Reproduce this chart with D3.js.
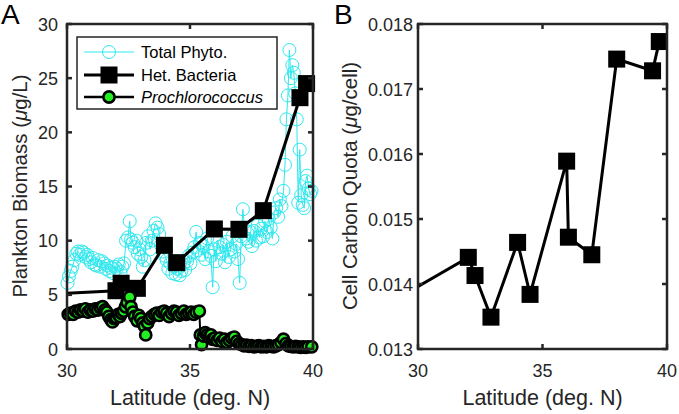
<!DOCTYPE html>
<html><head><meta charset="utf-8">
<script src="https://cdn.jsdelivr.net/npm/d3@7"></script>
<style>body{margin:0;background:#fff}svg{display:block;font-family:"Liberation Sans",Arial,sans-serif}</style>
</head><body><svg id="c" width="679" height="414"></svg>
<script>
// ---- data ----
const phytoLat = [29.95,30.02,30.08,30.15,30.22,30.3,30.38,30.45,30.52,30.6,30.68,30.75,30.82,30.9,30.97,31.05,31.12,31.2,31.28,31.35,31.42,31.5,31.58,31.65,31.72,31.8,31.88,31.95,32.02,32.1,32.18,32.25,32.32,32.4,32.48,32.55,32.6,32.68,32.75,32.82,32.88,32.95,33.02,33.08,33.15,33.22,33.3,33.38,33.45,33.52,33.6,33.68,33.75,33.82,33.9,33.98,34.05,34.12,34.2,34.28,34.35,34.42,34.5,34.58,34.65,34.72,34.8,34.88,34.95,35.02,35.1,35.18,35.25,35.32,35.4,35.48,35.55,35.62,35.7,35.78,35.85,35.92,35.98,36.05,36.12,36.2,36.28,36.35,36.42,36.5,36.58,36.65,36.72,36.8,36.88,36.95,37.02,37.08,37.15,37.22,37.3,37.38,37.45,37.52,37.6,37.68,37.75,37.82,37.9,37.98,38.05,38.12,38.2,38.28,38.35,38.42,38.5,38.58,38.65,38.72,38.8,38.86,38.92,38.98,39.04,39.1,39.16,39.22,39.28,39.34,39.4,39.46,39.52,39.58,39.64,39.7,39.76,39.82,39.88,39.94];
const phytoVal = [6.5,6.1,6.7,7.2,7.6,8.2,8.8,9.0,8.7,9.0,8.9,8.5,8.7,8.3,8.0,8.4,7.8,7.7,8.2,7.6,8.1,7.9,7.4,7.7,7.2,7.5,7.0,7.6,7.4,7.8,7.1,7.6,7.9,10.0,10.3,11.8,10.1,9.8,9.4,10.0,8.8,9.2,8.5,7.6,8.2,9.8,10.4,9.2,10.0,10.9,11.6,11.2,10.6,9.6,9.0,8.6,8.2,7.4,7.9,7.0,7.6,6.9,7.4,6.8,7.2,7.8,7.3,8.1,8.6,7.9,8.9,9.4,10.8,9.1,9.8,8.7,9.5,8.3,10.2,9.0,8.6,5.7,9.2,8.1,10.0,9.4,8.8,9.6,8.0,9.9,8.5,9.2,10.4,9.0,9.7,8.3,6.1,10.4,12.9,11.0,10.2,9.9,10.8,9.5,10.9,10.0,11.4,10.3,11.1,10.4,11.8,10.8,12.0,11.2,10.2,12.6,13.0,12.2,13.8,13.2,14.6,17.0,21.2,23.4,27.6,25.0,26.2,25.5,23.6,21.2,13.5,18.4,14.2,13.3,13.0,15.5,16.0,14.8,14.3,14.6];

const bactLat = [28.5,31.99,32.2,32.86,33.96,34.46,35.99,36.99,37.98,39.47,39.74];
const bactVal = [4.96,5.38,6.07,5.6,9.57,7.97,11.08,11.05,12.77,23.2,24.5];

const proLat = [29.95,30.05,30.15,30.25,30.35,30.45,30.55,30.65,30.75,30.85,30.95,31.05,31.15,31.25,31.35,31.45,31.55,31.62,31.7,31.78,31.85,31.92,32.0,32.08,32.15,32.22,32.3,32.38,32.45,32.55,32.6,32.68,32.75,32.85,32.92,33.0,33.08,33.15,33.2,33.28,33.36,33.45,33.55,33.65,33.75,33.85,33.95,34.05,34.15,34.25,34.35,34.45,34.55,34.65,34.75,34.85,34.95,35.05,35.15,35.25,35.38,35.42,35.47,35.55,35.62,35.7,35.78,35.85,35.92,36.0,36.1,36.2,36.3,36.4,36.5,36.6,36.7,36.8,36.9,37.0,37.1,37.2,37.3,37.4,37.5,37.6,37.7,37.8,37.9,38.0,38.1,38.2,38.3,38.4,38.5,38.6,38.7,38.8,38.9,39.0,39.1,39.2,39.3,39.4,39.5,39.6,39.7,39.8,39.95];
const proVal = [3.0,3.2,3.3,3.2,3.5,3.4,3.6,3.5,3.7,3.4,3.6,3.5,3.7,3.6,3.8,3.9,3.6,3.4,3.0,2.7,2.5,2.8,2.9,3.2,3.0,3.3,3.5,3.9,4.3,4.8,3.9,3.4,3.0,2.6,3.1,2.8,2.4,2.1,1.3,2.4,2.8,3.0,3.2,3.3,3.1,3.4,3.5,3.3,3.0,3.3,3.5,3.4,3.1,3.3,3.5,3.2,3.3,3.4,3.2,3.4,3.5,1.3,0.4,1.2,1.5,1.3,1.1,1.3,0.9,1.0,0.8,1.0,0.7,0.9,0.6,0.8,1.0,1.1,0.7,0.5,0.4,0.3,0.35,0.25,0.3,0.2,0.25,0.3,0.2,0.25,0.2,0.3,0.25,0.2,0.3,0.4,0.6,0.9,0.5,0.3,0.25,0.2,0.25,0.2,0.15,0.2,0.15,0.2,0.2];

const quotaLat = [28.5,32.02,32.29,32.93,34.0,34.5,35.97,36.04,36.98,37.98,39.42,39.69];
const quotaVal = [0.01363,0.01441,0.01413,0.01349,0.01464,0.01384,0.01589,0.01472,0.01445,0.01746,0.01728,0.01773];

const xTicks = [30,35,40];
const yTicksA = [0,5,10,15,20,25,30];
const yTicksB = [0.013,0.014,0.015,0.016,0.017,0.018];
const legendLabels = ["Total Phyto.","Het. Bacteria","Prochlorococcus"];

// ---- drawing ----
const svg = d3.select("#c");
const axisCol = "#262626";
const cyan = "#2ee8ee", green = "#22ee22";
const tickFont = 18, labelFont = 21.5;

function panel(id, x0, x1, y0, y1, yDomain, yTicks, yFmt, yGap) {
  const x = d3.scaleLinear().domain([30,40]).range([x0,x1]);
  const y = d3.scaleLinear().domain(yDomain).range([y1,y0]);
  svg.append("clipPath").attr("id",id).append("rect").attr("x",x0).attr("y",y0).attr("width",x1-x0).attr("height",y1-y0);
  const g = svg.append("g");
  const ax = svg.append("g");
  ax.append("rect").attr("x",x0).attr("y",y0).attr("width",x1-x0).attr("height",y1-y0)
    .attr("fill","none").attr("stroke",axisCol).attr("stroke-width",2.5);
  const tl = 5;
  xTicks.forEach(t=>{
    ax.append("line").attr("x1",x(t)).attr("x2",x(t)).attr("y1",y1).attr("y2",y1-tl).attr("stroke",axisCol).attr("stroke-width",2.5);
    ax.append("line").attr("x1",x(t)).attr("x2",x(t)).attr("y1",y0).attr("y2",y0+tl).attr("stroke",axisCol).attr("stroke-width",2.5);
    ax.append("text").attr("x",x(t)).attr("y",y1+28).attr("text-anchor","middle").attr("font-size",tickFont).attr("fill",axisCol).text(t);
  });
  yTicks.forEach(t=>{
    ax.append("line").attr("x1",x0).attr("x2",x0+tl).attr("y1",y(t)).attr("y2",y(t)).attr("stroke",axisCol).attr("stroke-width",2.5);
    ax.append("line").attr("x1",x1).attr("x2",x1-tl).attr("y1",y(t)).attr("y2",y(t)).attr("stroke",axisCol).attr("stroke-width",2.5);
    ax.append("text").attr("x",x0-yGap).attr("y",y(t)+6.5).attr("text-anchor","end").attr("font-size",tickFont).attr("fill",axisCol).text(yFmt(t));
  });
  ax.append("text").attr("x",(x0+x1)/2).attr("y",y1+56).attr("text-anchor","middle").attr("font-size",labelFont).attr("fill",axisCol).text("Latitude (deg. N)");
  return {x,y,g,ax};
}

// Panel A
const A = panel("clipA", 67, 313, 24, 349, [0,30], yTicksA, d=>d, 9);
const line = (x,y)=>d3.line().x(d=>x(d[0])).y(d=>y(d[1]));
const phyto = phytoLat.map((l,i)=>[l,phytoVal[i]]);
const bact = bactLat.map((l,i)=>[l,bactVal[i]]);
const pro = proLat.map((l,i)=>[l,proVal[i]]);
const inDom = d=>d[0]>=30 && d[0]<=40;

A.g.append("path").datum(phyto).attr("d",line(A.x,A.y)).attr("fill","none").attr("stroke",cyan).attr("stroke-width",1).attr("clip-path","url(#clipA)");
A.g.selectAll(".ph").data(phyto.filter(inDom)).join("circle").attr("cx",d=>A.x(d[0])).attr("cy",d=>A.y(d[1])).attr("r",6.5)
  .attr("fill","none").attr("stroke",cyan).attr("stroke-width",1);
A.g.append("path").datum(bact).attr("d",line(A.x,A.y)).attr("fill","none").attr("stroke","#000").attr("stroke-width",3).attr("clip-path","url(#clipA)");
A.g.selectAll(".bq").data(bact.filter(inDom)).join("rect").attr("x",d=>A.x(d[0])-8.5).attr("y",d=>A.y(d[1])-8.5).attr("width",17).attr("height",17).attr("fill","#000");
A.g.append("path").datum(pro).attr("d",line(A.x,A.y)).attr("fill","none").attr("stroke","#000").attr("stroke-width",2).attr("clip-path","url(#clipA)");
A.g.selectAll(".pr").data(pro.filter(inDom)).join("circle").attr("cx",d=>A.x(d[0])).attr("cy",d=>A.y(d[1])).attr("r",5.6)
  .attr("fill",green).attr("stroke","#000").attr("stroke-width",2.6);

// Y label A
const labA = svg.append("text").attr("transform","translate(27,186) rotate(-90)").attr("text-anchor","middle").attr("font-size",20.5).attr("fill",axisCol);
labA.append("tspan").text("Plankton Biomass (");
labA.append("tspan").attr("font-style","italic").text("μ");
labA.append("tspan").text("g/L)");

// Legend
const lg = svg.append("g");
lg.append("rect").attr("x",77).attr("y",37).attr("width",200).attr("height",72).attr("fill","#fff").attr("stroke",axisCol).attr("stroke-width",1.5);
const ly = [52,75,97];
lg.append("line").attr("x1",84).attr("x2",134).attr("y1",ly[0]).attr("y2",ly[0]).attr("stroke",cyan).attr("stroke-width",1);
lg.append("circle").attr("cx",109).attr("cy",ly[0]).attr("r",6.5).attr("fill","none").attr("stroke",cyan);
lg.append("line").attr("x1",84).attr("x2",134).attr("y1",ly[1]).attr("y2",ly[1]).attr("stroke","#000").attr("stroke-width",3);
lg.append("rect").attr("x",100.5).attr("y",ly[1]-8.5).attr("width",17).attr("height",17).attr("fill","#000");
lg.append("line").attr("x1",84).attr("x2",134).attr("y1",ly[2]).attr("y2",ly[2]).attr("stroke","#000").attr("stroke-width",2.5);
lg.append("circle").attr("cx",109).attr("cy",ly[2]).attr("r",5.6).attr("fill",green).attr("stroke","#000").attr("stroke-width",2.6);
legendLabels.forEach((t,i)=>{
  lg.append("text").attr("x",141).attr("y",ly[i]+6).attr("font-size",16.5).attr("fill","#000")
    .attr("font-style", i===2?"italic":"normal").text(t);
});

// Panel B
const B = panel("clipB", 418, 667, 24, 349, [0.013,0.018], yTicksB, d=>d.toFixed(3), 5);
const quota = quotaLat.map((l,i)=>[l,quotaVal[i]]);
B.g.append("path").datum(quota).attr("d",line(B.x,B.y)).attr("fill","none").attr("stroke","#000").attr("stroke-width",3).attr("clip-path","url(#clipB)");
B.g.selectAll(".q").data(quota.filter(inDom)).join("rect").attr("x",d=>B.x(d[0])-8.5).attr("y",d=>B.y(d[1])-8.5).attr("width",17).attr("height",17).attr("fill","#000");

const labB = svg.append("text").attr("transform","translate(357,186) rotate(-90)").attr("text-anchor","middle").attr("font-size",20.5).attr("fill",axisCol);
labB.append("tspan").text("Cell Carbon Quota (");
labB.append("tspan").attr("font-style","italic").text("μ");
labB.append("tspan").text("g/cell)");

// Panel letters
svg.append("text").attr("x",1).attr("y",24).attr("font-size",28).attr("fill","#000").text("A");
svg.append("text").attr("x",334).attr("y",24).attr("font-size",28).attr("fill","#000").text("B");
</script></body></html>
